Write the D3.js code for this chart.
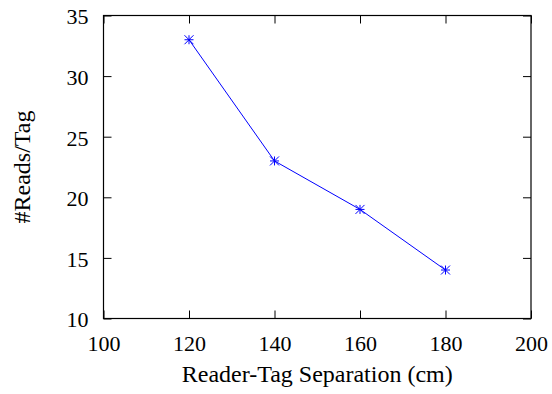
<!DOCTYPE html>
<html>
<head>
<meta charset="utf-8">
<script src="https://cdn.jsdelivr.net/npm/d3@7"></script>
<style>
  body { margin: 0; background: #fff; }
</style>
</head>
<body>
<div id="chart"></div>
<script>
// data
const separation = [120, 140, 160, 180];
const readsPerTag = [33, 23, 19, 14];
const xTicks = [100, 120, 140, 160, 180, 200];
const yTicks = [10, 15, 20, 25, 30, 35];

const W = 552, H = 394;
const margin = { top: 15.5, right: 21, bottom: 75.5, left: 103.5 };
const width = W - margin.left - margin.right;
const height = H - margin.top - margin.bottom;
const serif = '"Liberation Serif", "Times New Roman", Times, serif';

const svg = d3.select('#chart').append('svg')
  .attr('width', W)
  .attr('height', H)
  .attr('font-family', serif);

const g = svg.append('g')
  .attr('transform', `translate(${margin.left},${margin.top})`);

const x = d3.scaleLinear().domain([100, 200]).range([0, width]);
const y = d3.scaleLinear().domain([10, 35]).range([height, 0]);

const tickFont = 22;
const titleFont = 24;

// axes with inward ticks
const xAxis = g.append('g')
  .attr('transform', `translate(0,${height})`)
  .call(d3.axisBottom(x).tickValues(xTicks).tickSizeInner(-8).tickSizeOuter(0).tickPadding(17));
const yAxis = g.append('g')
  .call(d3.axisLeft(y).tickValues(yTicks).tickSizeInner(-8).tickSizeOuter(0).tickPadding(15));
// mirrored ticks top/right
const xTop = g.append('g')
  .call(d3.axisTop(x).tickValues(xTicks).tickSizeInner(-8).tickSizeOuter(0).tickFormat(''));
const yRight = g.append('g')
  .attr('transform', `translate(${width},0)`)
  .call(d3.axisRight(y).tickValues(yTicks).tickSizeInner(-8).tickSizeOuter(0).tickFormat(''));

[xAxis, yAxis, xTop, yRight].forEach(a => {
  a.attr('font-family', serif).attr('font-size', tickFont);
  a.select('.domain').remove();
  a.selectAll('line').attr('stroke', '#000').attr('stroke-width', 1);
  a.selectAll('text').attr('fill', '#000');
});
yAxis.selectAll('text').attr('dy', '0.38em');

// border
g.append('rect')
  .attr('width', width)
  .attr('height', height)
  .attr('fill', 'none')
  .attr('stroke', '#000')
  .attr('stroke-width', 1.2);

const pts = separation.map((s, i) => ({ s, v: readsPerTag[i] }));

const line = d3.line()
  .x(d => x(d.s))
  .y(d => y(d.v));

g.append('path')
  .datum(pts)
  .attr('fill', 'none')
  .attr('stroke', '#0000ff')
  .attr('stroke-width', 1)
  .attr('d', line);

// asterisk markers
const r = 4.5;
g.selectAll('.pt')
  .data(pts)
  .enter().append('path')
  .attr('class', 'pt')
  .attr('fill', 'none')
  .attr('stroke', '#0000ff')
  .attr('stroke-width', 1)
  .attr('d', d => {
    const cx = x(d.s), cy = y(d.v);
    return `M${cx - r},${cy}H${cx + r}M${cx},${cy - r}V${cy + r}` +
      `M${cx - r},${cy - r}L${cx + r},${cy + r}M${cx - r},${cy + r}L${cx + r},${cy - r}`;
  });

// axis titles
svg.append('text')
  .attr('x', margin.left + width / 2)
  .attr('y', 382)
  .attr('text-anchor', 'middle')
  .attr('font-size', titleFont)
  .attr('fill', '#000')
  .text('Reader-Tag Separation (cm)');

svg.append('text')
  .attr('transform', `translate(30,${margin.top + height / 2}) rotate(-90)`)
  .attr('text-anchor', 'middle')
  .attr('font-size', titleFont)
  .attr('fill', '#000')
  .text('#Reads/Tag');
</script>
</body>
</html>
